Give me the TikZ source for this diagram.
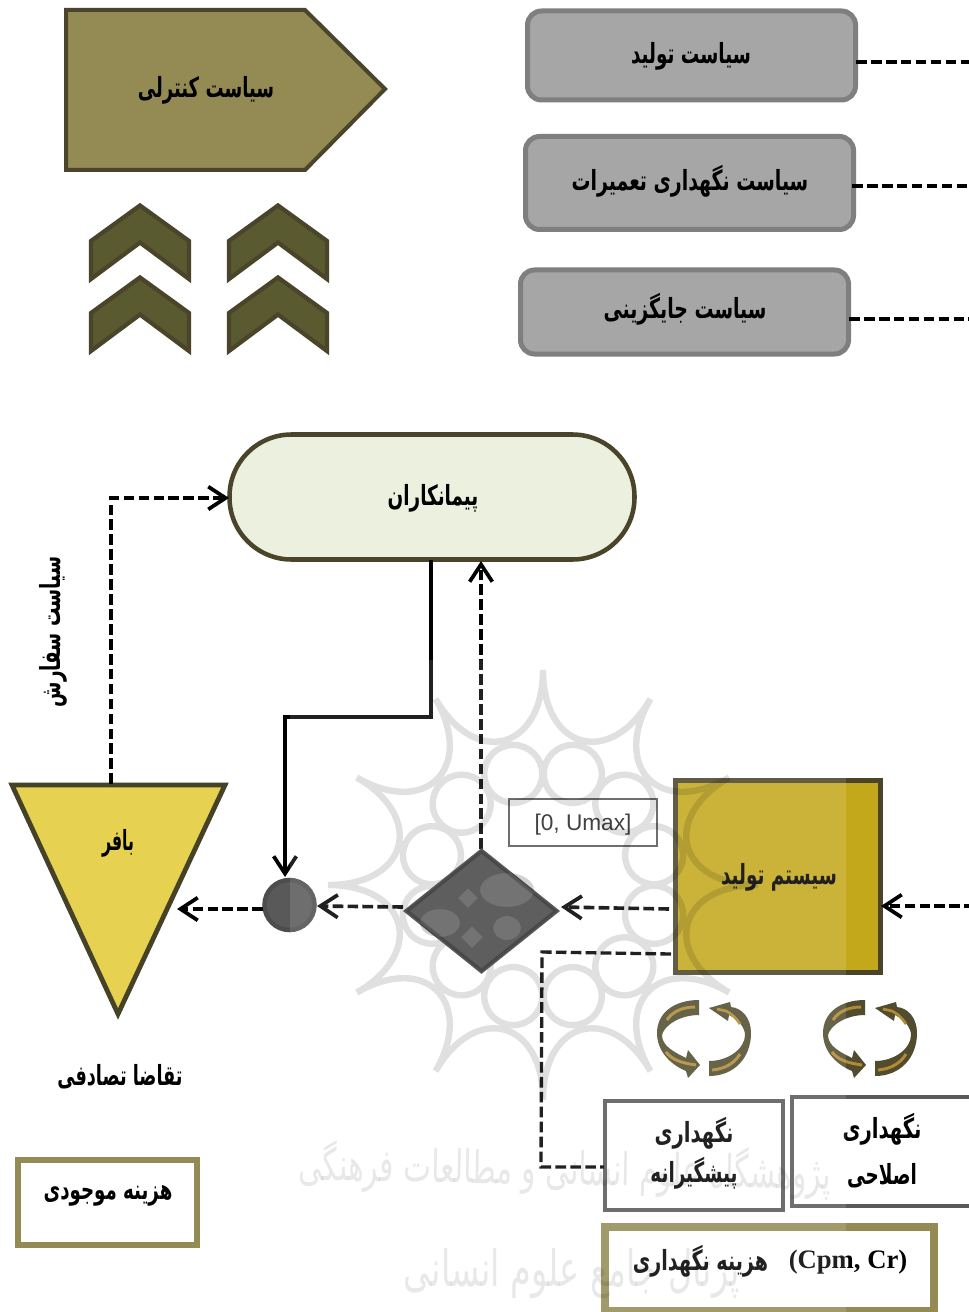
\documentclass[tikz,border=0pt]{standalone}
\usepackage{fontspec}
\usepackage{graphicx}
\usetikzlibrary{arrows.meta,shapes.geometric}
\TeXXeTstate=1
\newfontfamily\arb[Script=Arabic]{DejaVu Sans}
\newfontfamily\latb{Liberation Serif}
\newfontfamily\sansf{Liberation Sans}
\definecolor{olive}{HTML}{948B54}
\definecolor{bark}{HTML}{4A452A}
\definecolor{chevf}{HTML}{5A5A31}
\definecolor{greyf}{HTML}{A6A6A6}
\definecolor{greyl}{HTML}{7F7F7F}
\definecolor{paleg}{HTML}{EBF0DF}
\definecolor{gold}{HTML}{C4A81C}
\definecolor{yell}{HTML}{E6D250}
\definecolor{darkg}{HTML}{595959}
\definecolor{edgeg}{HTML}{4D4D4D}
\definecolor{amber}{HTML}{B08A35}
\newcommand{\fa}[2][1.06]{\scalebox{#1}[1.6]{\beginR #2\endR}}
\tikzset{
  sz/.style 2 args={minimum width=#1*0.75pt,minimum height=#2*0.75pt,inner sep=0pt},
  lab/.style={font=\arb\bfseries\fontsize{13}{15}\selectfont,inner sep=0pt,align=center},
  policy/.style={draw=greyl,fill=greyf,line width=3.75pt,rounded corners=10.5pt},
  whitebox/.style={draw=darkg,fill=white,line width=3pt},
  costbox/.style={draw=olive,fill=white,line width=5pt},
  dashln/.style={line width=2.7pt,dash pattern=on 8pt off 3.2pt,draw=black},
  arrowtip/.style={-{Straight Barb[length=13pt,width=17pt,line width=2.8pt]}},
  solidln/.style={line width=2.8pt,draw=black}
}
\begin{document}
\begin{tikzpicture}[x=0.75pt,y=-0.75pt,line join=miter,miter limit=10,
  chev/.pic={
    \path[draw=bark,fill=chevf,line width=3.2pt] (91,241)--(140,205.5)--(189,241)--(189,279)--(140,242.5)--(91,279)--cycle;
  },
  cyc/.pic={
    \fill[bark!90!olive] (-5,-38) .. controls (-30,-38) and (-47,-25) .. (-47,-5) .. controls (-47,12) and (-35,26) .. (-18,33) -- (-16,40) -- (-4,27) -- (-16,12) -- (-18,20) .. controls (-30,14) and (-42,8) .. (-42,-3) .. controls (-40,-12) and (-25,-23) .. (-5,-23) -- cycle;
    \fill[bark!90!olive] (5,38) .. controls (30,38) and (47,20) .. (47,-5) .. controls (47,-20) and (38,-30) .. (27,-31) -- (26,-36) -- (5,-30) -- (24,-17) -- (25,-23) .. controls (35,-18) and (41,-10) .. (41,-3) .. controls (41,10) and (25,23) .. (5,23) -- cycle;
    \draw[line width=2.2pt,draw=amber] (-9,-31) .. controls (-22,-31) and (-32,-26) .. (-37,-18);
    \draw[line width=2.2pt,draw=amber] (-38,14) .. controls (-32,22) and (-22,25) .. (-8,27);
    \draw[line width=2pt,draw=amber] (13,-29) -- (22,-27) .. controls (28,-24) and (32,-20) .. (36,-14);
    \draw[line width=2.2pt,draw=amber] (8,32) .. controls (20,31) and (30,26) .. (36,16);
  }]
\useasboundingbox (0,0) rectangle (968,1312);
\fill[white] (0,0) rectangle (968,1312);

% control policy
\path[draw=bark,fill=olive,line width=3pt] (66,10)--(305,10)--(385,89)--(305,170)--(66,170)--cycle;
\node[lab] (control) at (206,90) {\fa[1.04]{سیاست کنترلی}};

% chevrons
\pic at (0,0) {chev};
\pic at (0,72) {chev};
\pic at (138,0) {chev};
\pic at (138,72) {chev};

% policies
\node[policy,sz={328}{89}] (prod) at (691.5,55.5) {};
\node[lab] (prodt) at (691,56) {\fa{سیاست تولید}};
\node[policy,sz={328}{93}] (maint) at (689.5,183) {};
\node[lab] (maintt) at (690,181) {\fa[1.09]{سیاست نگهداری تعمیرات}};
\node[policy,sz={328}{84}] (repl) at (684.5,312) {};
\node[lab] (replt) at (685,309) {\fa[1.09]{سیاست جایگزینی}};
\coordinate (e1) at (975,62);
\coordinate (e2) at (975,186);
\coordinate (e3) at (975,319);
\coordinate (p1) at (856,62);
\coordinate (p2) at (852,186);
\coordinate (p3) at (849,319);
\draw[dashln] (p1) -- (e1);
\draw[dashln] (p2) -- (e2);
\draw[dashln] (p3) -- (e3);

% contractors
\node[draw=bark,fill=paleg,line width=3.4pt,rounded corners=46.5pt,sz={405}{125}] (contr) at (432,497) {};
\node[lab] (contrt) at (433,498) {\fa{پیمانکاران}};

% buffer
\path[draw=bark!95!black,fill=yell,line width=3.6pt] (12,785)--(225,785)--(118,1014)--cycle;
\node[lab] (buffer) at (118,843) {\fa[.91]{بافر}};
\coordinate (buftop) at (111,784);
\coordinate (bufr) at (177,909);
\node[lab,rotate=90] (order) at (53,632) {\fa{سیاست سفارش}};
\node[lab] (demand) at (120,1077) {\fa[1.02]{تقاضا تصادفی}};
\node[costbox,sz={179}{85}] (invcost) at (107.5,1202.5) {};
\node[lab] (invcostt) at (108,1196) {\fa[1.05]{هزینه موجودی}};

% system
\node[draw=bark,fill=gold,line width=3.2pt,sz={205}{192}] (system) at (778,876.5) {};
\node[lab] (systemt) at (779,877) {\fa{سیستم تولید}};

% circle
\node[circle,draw=edgeg,fill=darkg,line width=3.4pt,minimum size=50*0.75pt,inner sep=0pt] (junc) at (289.5,905) {};

% bound label
\node[draw=darkg,fill=white,line width=1.5pt,sz={148}{47}] (bound) at (583,822) {};
\node[font=\sansf\fontsize{17}{19}\selectfont,text=black!85,inner sep=0pt] (boundt) at (583,825) {[0, Umax]};

% maintenance boxes
\node[whitebox,sz={178}{109}] (prev) at (694,1155.5) {};
\node[lab] (prevA) at (694,1133) {\fa[1.13]{نگهداری}};
\node[lab] (prevB) at (694,1173) {\fa{پیشگیرانه}};
\node[whitebox,sz={188}{109}] (corr) at (886,1151.5) {};
\node[lab] (corrA) at (882,1129) {\fa[1.13]{نگهداری}};
\node[lab] (corrB) at (882,1176) {\fa{اصلاحی}};
\node[costbox,line width=5.4pt,sz={329}{84}] (maintcost) at (769.5,1269) {};
\node[lab] (mcA) at (700.5,1261) {\fa[1.1]{هزینه نگهداری}};
\node[font=\latb\bfseries\fontsize{20}{22}\selectfont,inner sep=0pt] (mcB) at (848,1262) {(Cpm, Cr)};

% cycle icons
\pic at (704,1038) {cyc};
\pic at (870,1038) {cyc};

% connectors
\coordinate (dR) at (561,907);
\coordinate (dL) at (403,907);
\coordinate (dT) at (481,849);
\coordinate (cT) at (481,561);
\coordinate (cB) at (431,560);
\coordinate (elbA) at (431,717);
\coordinate (elbB) at (285,717);
\coordinate (jT) at (285,877);
\coordinate (jR) at (317,906);
\coordinate (jL) at (263,909);
\coordinate (cW) at (229,498);
\coordinate (sysW) at (669,909);
\coordinate (sysW2) at (671,954);
\coordinate (sysE) at (881,906);
\coordinate (inE) at (975,906);
\coordinate (elbC) at (542,952);
\coordinate (elbD) at (541,1167);
\coordinate (pW) at (604,1167);

\draw[dashln,arrowtip] (buftop) |- (cW);
\draw[solidln,arrowtip] (cB) -- (elbA) -- (elbB) -- (jT);
\draw[dashln,arrowtip] (dT) -- (cT);
\draw[dashln,arrowtip] (sysW) -- (dR);
\draw[dashln,arrowtip] (dL) -- (jR);
\draw[dashln,arrowtip] (jL) -- (bufr);
\draw[dashln,arrowtip] (inE) -- (sysE);
\draw[dashln,line width=2.5pt] (sysW2) -- (elbC) -- (elbD) -- (pW);

% watermark layer: lightened image area
\fill[white,opacity=.13] (290,660) rectangle (846,1312);
\begin{scope}[shift={(543,885)}]
\draw[black,opacity=.12,line width=4.8pt]
  \foreach \a in {0,30,...,330} {
    (\a:215) .. controls (\a:135) and (\a+30:135) .. (\a+30:215)
  }
  \foreach \a in {15,45,...,345} {
    (\a:115) circle [radius=29]
  };
\end{scope}
\node[font=\arb\fontsize{27}{30}\selectfont,text=black,opacity=.09,inner sep=0pt,rotate=-1] (wma) at (565,1170) {\scalebox{.82}[1.25]{\beginR پژوهشگاه علوم انسانی و مطالعات فرهنگی\endR}};
\node[font=\arb\fontsize{30}{33}\selectfont,text=black,opacity=.09,inner sep=0pt] (wmb) at (572,1274) {\scalebox{.84}[1.25]{\beginR پرتال جامع علوم انسانی\endR}};

% diamond, mottled, above the watermark
\node[diamond,draw=black!65,fill=black!55,line width=3.2pt,aspect=1.25,sz={152}{122}] (diam) at (481.5,911) {};
\fill[black,opacity=.18,even odd rule] (405.5,911)--(481.5,850)--(557.5,911)--(481.5,972)--cycle
  (440,923) ellipse [x radius=20,y radius=14]
  (507,890) ellipse [x radius=27,y radius=17]
  (507,928) ellipse [x radius=14,y radius=12]
  (468,888)--(478,898)--(468,908)--(458,898)--cycle
  (472,926)--(483,937)--(472,948)--(461,937)--cycle;
\end{tikzpicture}
\end{document}
